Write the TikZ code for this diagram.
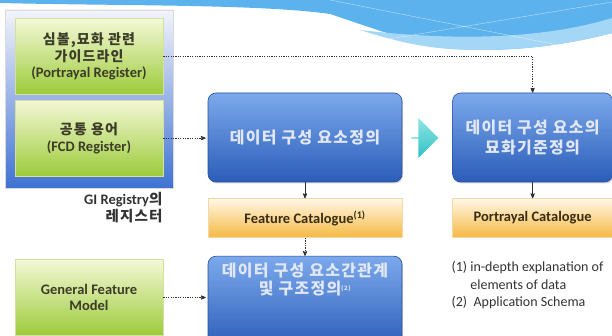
\documentclass[tikz,border=0pt]{standalone}
\usepackage{fontspec}
\setmainfont{Carlito}
\newfontfamily\kr{Noto Sans CJK KR}[LetterSpace=8]
\usetikzlibrary{arrows,positioning,shapes.arrows,shadows}

\definecolor{wavedark}{HTML}{5BB2EC}
\definecolor{wavelight}{HTML}{A4D6F6}
\definecolor{frametop}{HTML}{F3F4FB}
\definecolor{framemid}{HTML}{C9D5F1}
\definecolor{framebottom}{HTML}{3F72D2}
\definecolor{regtop}{HTML}{F4F8D6}
\definecolor{regbottom}{HTML}{9CCB3A}
\definecolor{regline}{HTML}{D6DFA2}
\definecolor{regtext}{HTML}{3C3C28}
\definecolor{deftop}{HTML}{7CA9EC}
\definecolor{defbottom}{HTML}{2B5DB9}
\definecolor{defline}{HTML}{2A4F9A}
\definecolor{deftext}{HTML}{E2E8F3}
\definecolor{cattop}{HTML}{FFF7E6}
\definecolor{catbottom}{HTML}{F5B942}
\definecolor{catline}{HTML}{F4D9A4}
\definecolor{cattext}{HTML}{3A2C12}
\definecolor{shifttop}{HTML}{8FE6E6}
\definecolor{shiftbottom}{HTML}{2FBFC4}
\definecolor{linkgray}{HTML}{2E3038}

\begin{document}
\begin{tikzpicture}[x=1pt, y=-1pt, >=stealth', semithick, auto]

    \tikzstyle{regbox} = [rectangle, minimum width=148pt, minimum height=76pt, text centered, align=center, draw=regline, top color=regtop, bottom color=regbottom, text=regtext, font=\bfseries\fontsize{14.5}{16.5}\selectfont]
    \tikzstyle{defbox} = [rectangle, rounded corners=8pt, minimum height=89pt, text centered, align=center, draw=defline, top color=deftop, bottom color=defbottom, text=deftext, drop shadow={opacity=0.35, shadow xshift=1pt, shadow yshift=-1.5pt}, font=\kr\bfseries\fontsize{16}{20}\selectfont]
    \tikzstyle{catbox} = [rectangle, minimum height=39pt, text centered, draw=catline, top color=cattop, bottom color=catbottom, text=cattext, font=\bfseries\fontsize{14.5}{16}\selectfont]
    \tikzstyle{link} = [->, thick, color=linkgray, dash pattern=on 1.3pt off 1.1pt]
    \tikzstyle{flow} = [->, thick, color=linkgray]

    \useasboundingbox (0,0) rectangle (612,336);
    \clip (0,0) rectangle (612,336);

    % wave at the top
    \fill[wavedark] (0,0) -- (0,3) .. controls (120,6) and (260,4) .. (330,14) .. controls (390,34) and (430,50) .. (480,50) .. controls (540,50) and (585,40) .. (612,33) -- (612,0) -- cycle;
    \fill[wavelight] (360,30) .. controls (410,46) and (440,50) .. (480,50) .. controls (540,50) and (585,40) .. (612,33) -- (612,18) .. controls (560,34) and (480,44) .. (360,30);
    \draw[white, opacity=0.6, thin] (330,0) -- (563,46) (383,40) -- (612,2);

    % registry frame
    \node (regframe) [rectangle, minimum width=168pt, minimum height=178pt, draw=black!15, top color=frametop, middle color=framemid, bottom color=framebottom] at (89,99) {};

    \node (portreg)  [regbox] at (89,56.5) {{\kr\fontsize{14}{16}\selectfont 심볼,묘화 관련}\\{\kr\fontsize{14}{16}\selectfont 가이드라인}\\(Portrayal Register)};
    \node (fcdreg)   [regbox, below=5pt of portreg] {{\kr\fontsize{14}{18}\selectfont 공통 용어}\\(FCD Register)};
    \node (regcaption) [anchor=east, align=right, text=black!80, font=\bfseries\fontsize{14.5}{17}\selectfont] at (166,208) {GI Registry{\kr 의}\\{\kr 레지스터}};
    \node (gfm)      [regbox] at (89,297.5) {General Feature\\Model};

    % definition boxes
    \node (datadef)    [defbox, minimum width=194pt] at (305,137.5) {데이터 구성 요소정의};
    \node (stylingdef) [defbox, minimum width=160pt, right=50pt of datadef] {데이터 구성 요소의\\묘화기준정의};
    \node (shiftarrow) [single arrow, minimum width=40pt, minimum height=27pt, single arrow head extend=9pt, inner sep=0pt, top color=shifttop, bottom color=shiftbottom, draw=none] at (424.5,138) {};

    \node (featcat) [catbox, minimum width=194pt, below=16pt of datadef] {Feature Catalogue\textsuperscript{(1)}};
    \node (portcat) [catbox, minimum width=160pt, below=16pt of stylingdef] {Portrayal Catalogue};
    \node (datarel) [defbox, minimum width=194pt, minimum height=92pt, below=18pt of featcat] {};
    \node (datareltext) [below=3pt of datarel.north, text=deftext, align=center, font=\kr\bfseries\fontsize{16}{18.5}\selectfont] {데이터 구성 요소간관계\\및 구조정의{\fontsize{9}{9}\selectfont\textsuperscript{(2)}}};

    \node (notes) [anchor=north west, align=left, text=black!80, font=\fontsize{14}{17.5}\selectfont] at (448,258) {(1) in-depth explanation of\\\phantom{(1) }elements of data\\(2)\ \ Application Schema};

    % connectors
    \draw[link] (portreg.east) -- (portreg.east -| stylingdef.north) -- (stylingdef.north);
    \draw[link, shorten >=2pt] (fcdreg.east) -- (fcdreg.east -| datadef.west);
    \draw[link, shorten >=2pt] (gfm.east) -- (gfm.east -| datarel.west);
    \path[flow] (datadef) edge (featcat);
    \path[flow] (stylingdef) edge (portcat);
    \path[link] (featcat) edge (datarel);
\end{tikzpicture}
\end{document}
